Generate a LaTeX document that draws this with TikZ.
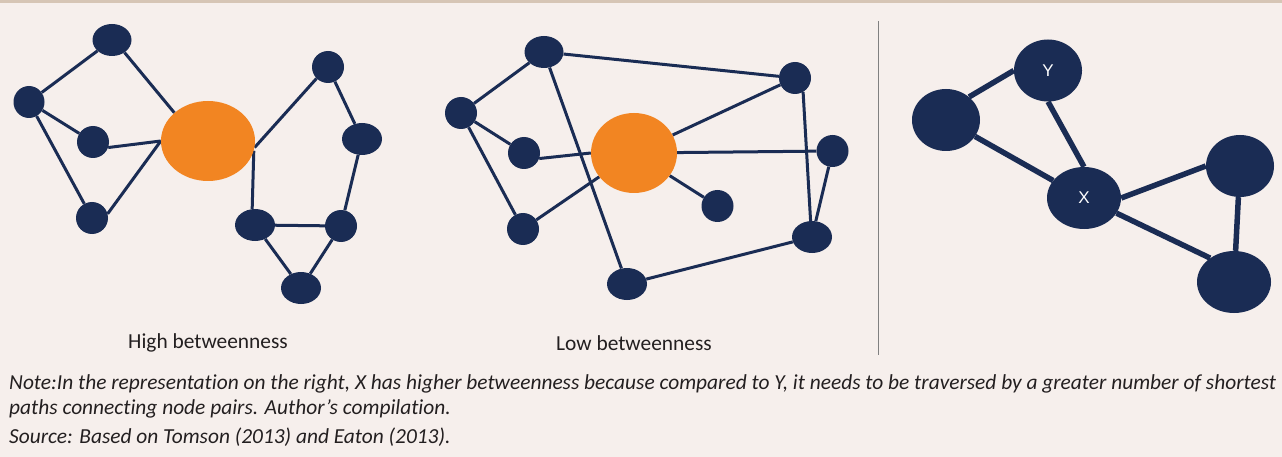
\documentclass[tikz,border=0pt]{standalone}
\usepackage{fontspec}
\setmainfont{Carlito}[Ligatures=NoCommon]
\newfontfamily\lblfont{Liberation Sans}
\usetikzlibrary{shapes.geometric}
\definecolor{navy}{HTML}{1A2C54}
\definecolor{orng}{HTML}{F28522}
\definecolor{bgc}{HTML}{F6EFEC}
\definecolor{band}{HTML}{D6C5B5}
\definecolor{txt}{HTML}{231F20}
\definecolor{sepc}{HTML}{808080}
\pgfdeclarelayer{bglayer}
\pgfdeclarelayer{edgelayer}
\pgfsetlayers{bglayer,edgelayer,main}
\tikzset{
  nd/.style={ellipse, fill=navy, draw=none, inner sep=0pt},
  hub/.style={ellipse, fill=orng, draw=none, inner sep=0pt},
  lnk/.style={draw=navy, line width=3pt},
  biglnk/.style={draw=navy, line width=5.5pt},
  captxt/.style={font=\fontsize{21.4}{25}\selectfont, text=txt, inner sep=0pt},
  notetxt/.style={font=\fontsize{21.4}{25}\selectfont\itshape, text=txt, inner sep=0pt, anchor=west},
  xylbl/.style={text=white, font=\lblfont\fontsize{17}{20}\selectfont}
}
\begin{document}
\begin{tikzpicture}[x=1pt,y=-1pt]
\useasboundingbox (0,0) rectangle (1282,457);
\begin{pgfonlayer}{bglayer}
\fill[bgc] (0,0) rectangle (1282,457);
\fill[band] (0,0) rectangle (1282,3.5);
\end{pgfonlayer}
\draw[sepc, line width=1.5pt] (878.5,21) coordinate (s1) -- (878.5,355) coordinate (s2);
% left graph
\node[nd, minimum width=39, minimum height=32] (A) at (112,40) {};
\node[nd, minimum width=31, minimum height=32] (B) at (29,102) {};
\node[nd, minimum width=32, minimum height=32] (C) at (93,142) {};
\node[nd, minimum width=32, minimum height=32] (D) at (92,218) {};
\node[hub, minimum width=94, minimum height=80] (O1) at (208,141) {};
\node[nd, minimum width=32, minimum height=32] (E) at (328,67) {};
\node[nd, minimum width=40, minimum height=32] (F) at (362,139) {};
\node[nd, minimum width=40, minimum height=32] (G) at (255,225) {};
\node[nd, minimum width=32, minimum height=32] (H) at (341,226) {};
\node[nd, minimum width=40, minimum height=32] (I) at (301,288) {};
\begin{pgfonlayer}{edgelayer}
\draw[lnk] (A) -- (B);
\draw[lnk] (A.-45) -- (O1.140);
\draw[lnk] (B) -- (C);
\draw[lnk] (B) -- (D);
\draw[lnk] (C.-20) -- (O1.west);
\draw[lnk] (D.15) -- (O1.west);
\draw[lnk] (O1.-8) -- (E.225);
\draw[lnk] (O1.-12) -- (G.100);
\draw[lnk] (E) -- (F);
\draw[lnk] (F) -- (H);
\draw[lnk] (G) -- (H);
\draw[lnk] (G) -- (I);
\draw[lnk] (H) -- (I);
\end{pgfonlayer}
% middle graph
\node[nd, minimum width=39, minimum height=32] (M1) at (544,52) {};
\node[nd, minimum width=32, minimum height=32] (M2) at (461,113) {};
\node[nd, minimum width=32, minimum height=32] (M3) at (524,153) {};
\node[nd, minimum width=32, minimum height=32] (M4) at (523,229) {};
\node[hub, minimum width=86, minimum height=80] (O2) at (634,153) {};
\node[nd, minimum width=32, minimum height=32] (M5) at (795,78) {};
\node[nd, minimum width=32, minimum height=32] (M6) at (832.5,151) {};
\node[nd, minimum width=32, minimum height=32] (M7) at (717.5,206) {};
\node[nd, minimum width=40, minimum height=32] (M8) at (812,237) {};
\node[nd, minimum width=40, minimum height=32] (M9) at (627,284) {};
\begin{pgfonlayer}{edgelayer}
\draw[lnk] (M1) -- (M2);
\draw[lnk] (M1) -- (M5);
\draw[lnk] (M1) -- (M9);
\draw[lnk] (M2) -- (M3);
\draw[lnk] (M2) -- (M4);
\draw[lnk] (M3.-20) -- (O2.west);
\draw[lnk] (M4) -- (O2);
\draw[lnk] (O2) -- (M5);
\draw[lnk] (O2) -- (M6);
\draw[lnk] (O2) -- (M7);
\draw[lnk] (M5.-60) -- (M8.95);
\draw[lnk] (M6) -- (M8);
\draw[lnk] (M8) -- (M9);
\end{pgfonlayer}
% right graph
\node[nd, minimum width=68, minimum height=62] (R1) at (946,120) {};
\node[nd, minimum width=68, minimum height=62, xylbl] (Y) at (1048,70.5) {Y};
\node[nd, minimum width=74, minimum height=62, xylbl] (X) at (1084,198) {X};
\node[nd, minimum width=68, minimum height=62] (R2) at (1240,166) {};
\node[nd, minimum width=74, minimum height=62] (R3) at (1234,282) {};
\begin{pgfonlayer}{edgelayer}
\draw[biglnk] (R1.45) -- (Y.west);
\draw[biglnk] (R1) -- (X);
\draw[biglnk] (Y.south) -- (X.north);
\draw[biglnk] (X.east) -- (R2.west);
\draw[biglnk] (X.-25) -- (R3.135);
\draw[biglnk] (R2) -- (R3);
\end{pgfonlayer}
% captions
\node[captxt] (capH) at (208,343) {High betweenness};
\node[captxt] (capL) at (634,343) {Low betweenness};
\node[notetxt] (n1) at (9,384) {Note:In the representation on the right, X has higher betweenness because compared to Y, it needs to be traversed by a greater number of shortest};
\node[notetxt] (n2) at (9,409) {paths connecting node pairs. Author’s compilation.};
\node[notetxt] (n3) at (9,437) {Source: Based on Tomson (2013) and Eaton (2013).};
\end{tikzpicture}
\end{document}
